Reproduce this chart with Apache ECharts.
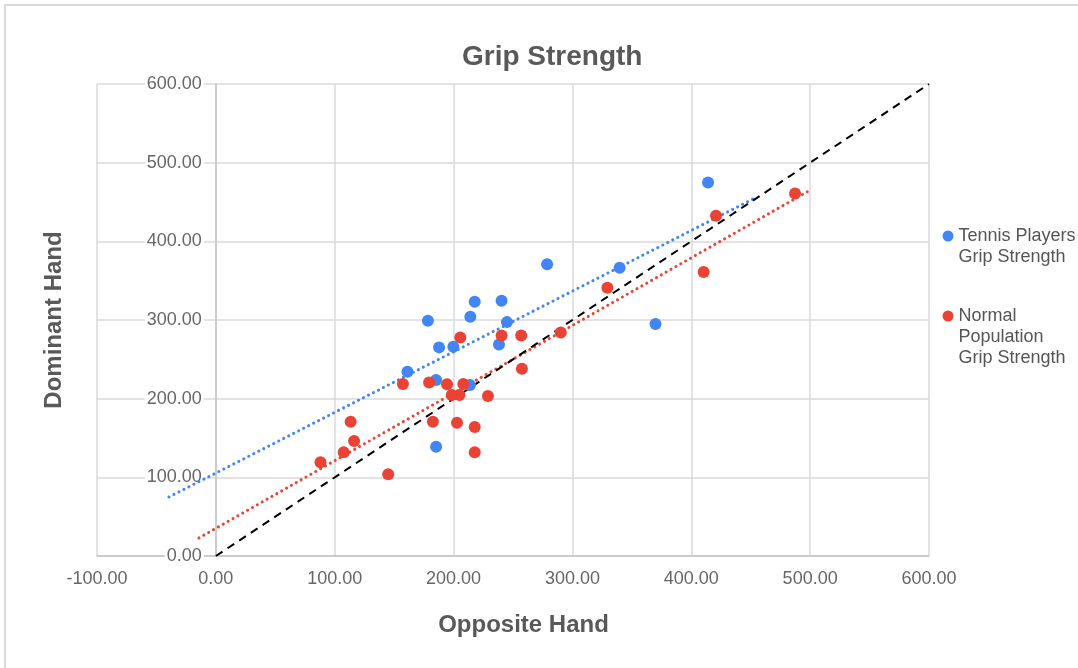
<!DOCTYPE html>
<html>
<head>
<meta charset="utf-8">
<title>Grip Strength</title>
<script src="https://cdn.jsdelivr.net/npm/echarts@6/dist/echarts.min.js"></script>
<style>
  html, body { margin: 0; padding: 0; background: #ffffff; }
  #chart { width: 1078px; height: 668px; }
</style>
</head>
<body>
<div id="chart"></div>
<script>
// Grip strength readings (opposite hand vs dominant hand)
const tennisOpposite = [278.7, 217.8, 240.4, 178.4, 214.1, 244.9, 187.8, 199.8, 238.2, 161.2, 185.3, 213.8, 185.3, 414.1, 339.7, 369.9];
const tennisDominant = [371.0, 323.1, 324.4, 299.0, 304.1, 297.3, 265.2, 266.0, 269.0, 234.2, 223.6, 217.3, 138.9, 474.8, 366.3, 294.8];

const normalOpposite = [205.7, 240.4, 256.9, 290.2, 257.5, 157.4, 179.4, 194.5, 208.2, 198.5, 204.9, 228.9, 113.4, 182.6, 202.9, 217.8, 116.3, 107.6, 217.8, 88.0, 145.0, 420.8, 487.3, 329.4, 410.4];
const normalDominant = [277.9, 280.4, 280.4, 284.2, 238.0, 218.6, 220.7, 218.2, 218.6, 204.6, 204.6, 203.3, 170.7, 170.7, 169.4, 163.9, 146.1, 131.8, 131.8, 119.1, 103.8, 432.4, 460.9, 340.9, 360.9];

// Linear trendline end points [x, y]
const tennisTrend = [[-39.5, 75.0], [455.6, 456.7]];
const normalTrend = [[-14.3, 22.9], [497.6, 463.0]];
// Equal-strength reference line
const equalLine = [[0, 0], [600, 600]];

const tennisName = 'Tennis Players\nGrip Strength';
const normalName = 'Normal\nPopulation\nGrip Strength';

const BLUE = '#4285F4';
const RED = '#EA4335';
const FONT = '"Liberation Sans", Arial, Helvetica, sans-serif';

const zip = (xs, ys) => xs.map((x, i) => [x, ys[i]]);
const fmt = v => v.toFixed(2);

// Legend labels: pad with blank lines above so the first line sits level with the marker
const legendLabel = name => {
  const lines = name.split('\n');
  return '\n'.repeat(lines.length - 1) + name;
};

const PLOT_LEFT = 97;
const PLOT_WIDTH = 1078 - 97 - 149;
const X_MIN = -100, X_MAX = 600;
const Y_MIN = 0, Y_MAX = 600;
// Vertical axis drawn at x = 0 (shift from the left plot edge)
const yAxisShift = PLOT_WIDTH * (0 - X_MIN) / (X_MAX - X_MIN);

const chart = echarts.init(document.getElementById('chart'), null, { renderer: 'canvas' });

chart.setOption({
  animation: false,
  backgroundColor: '#ffffff',
  textStyle: { fontFamily: FONT },
  title: {
    text: 'Grip Strength',
    left: 462,
    top: 43,
    padding: 0,
    textStyle: { fontFamily: FONT, fontSize: 28, fontWeight: 'bold', color: '#595959' }
  },
  graphic: [{
    type: 'polyline',
    shape: { points: [[5, 668], [5, 5], [1078, 5]] },
    style: { stroke: '#d9d9d9', lineWidth: 2, fill: null },
    silent: true
  }],
  legend: {
    orient: 'vertical',
    left: 942.5,
    top: 204.5,
    padding: 0,
    itemWidth: 11,
    itemHeight: 11,
    itemGap: -4,
    icon: 'circle',
    formatter: legendLabel,
    textStyle: { fontFamily: FONT, fontSize: 18, lineHeight: 21, color: '#555555' },
    data: [tennisName, normalName],
    selectedMode: false
  },
  grid: { left: PLOT_LEFT, right: 149, top: 84, bottom: 112, containLabel: false, outerBoundsMode: 'none' },
  xAxis: {
    type: 'value',
    min: X_MIN, max: X_MAX, interval: 100,
    name: 'Opposite Hand',
    nameLocation: 'middle',
    nameGap: 57,
    nameTextStyle: { fontFamily: FONT, fontSize: 24, fontWeight: 'bold', color: '#595959', padding: [0, 0, 0, 21] },
    axisLine: { onZero: false, lineStyle: { color: '#c4c4c4', width: 1.5 } },
    axisTick: { show: false },
    axisLabel: { formatter: fmt, fontSize: 18, color: '#666666', margin: 14, fontFamily: FONT },
    splitLine: { lineStyle: { color: '#dadada', width: 1.5 } }
  },
  yAxis: [
    {
      // gridlines, axis line at x = 0 and axis title
      type: 'value',
      position: 'left',
      min: Y_MIN, max: Y_MAX, interval: 100,
      offset: -yAxisShift,
      name: 'Dominant Hand',
      nameLocation: 'middle',
      nameGap: 149,
      nameRotate: 90,
      nameTextStyle: { fontFamily: FONT, fontSize: 24, fontWeight: 'bold', color: '#595959' },
      axisLine: { show: true, onZero: false, lineStyle: { color: '#c4c4c4', width: 1.5 } },
      axisTick: { show: false },
      axisLabel: { show: false },
      splitLine: { lineStyle: { color: '#dadada', width: 1.5 } },
      z: 0
    },
    {
      // tick labels on a white backing, drawn over the gridlines
      type: 'value',
      position: 'left',
      min: Y_MIN, max: Y_MAX, interval: 100,
      offset: -yAxisShift,
      axisLine: { show: false, onZero: false },
      axisTick: { show: false },
      splitLine: { show: false },
      axisLabel: {
        formatter: fmt, fontSize: 18, color: '#666666', margin: 12, fontFamily: FONT,
        backgroundColor: '#ffffff', padding: [0, 2, 0, 2]
      },
      z: 1
    }
  ],
  series: [
    {
      name: tennisName,
      type: 'scatter',
      data: zip(tennisOpposite, tennisDominant),
      symbolSize: 12,
      itemStyle: { color: BLUE, opacity: 1 },
      z: 4
    },
    {
      name: normalName,
      type: 'scatter',
      data: zip(normalOpposite, normalDominant),
      symbolSize: 12,
      itemStyle: { color: RED, opacity: 1 },
      z: 5
    },
    {
      name: 'tennis-trend',
      type: 'line',
      data: tennisTrend,
      showSymbol: false,
      symbol: 'none',
      silent: true,
      lineStyle: { color: BLUE, width: 3, type: [0.1, 5.5], cap: 'round' },
      z: 2
    },
    {
      name: 'normal-trend',
      type: 'line',
      data: normalTrend,
      showSymbol: false,
      symbol: 'none',
      silent: true,
      lineStyle: { color: RED, width: 3, type: [0.1, 5.5], cap: 'round' },
      z: 2
    },
    {
      name: 'equal',
      type: 'line',
      data: equalLine,
      showSymbol: false,
      symbol: 'none',
      silent: true,
      lineStyle: { color: '#000000', width: 2, type: [8, 6] },
      z: 3
    }
  ]
});
</script>
</body>
</html>
